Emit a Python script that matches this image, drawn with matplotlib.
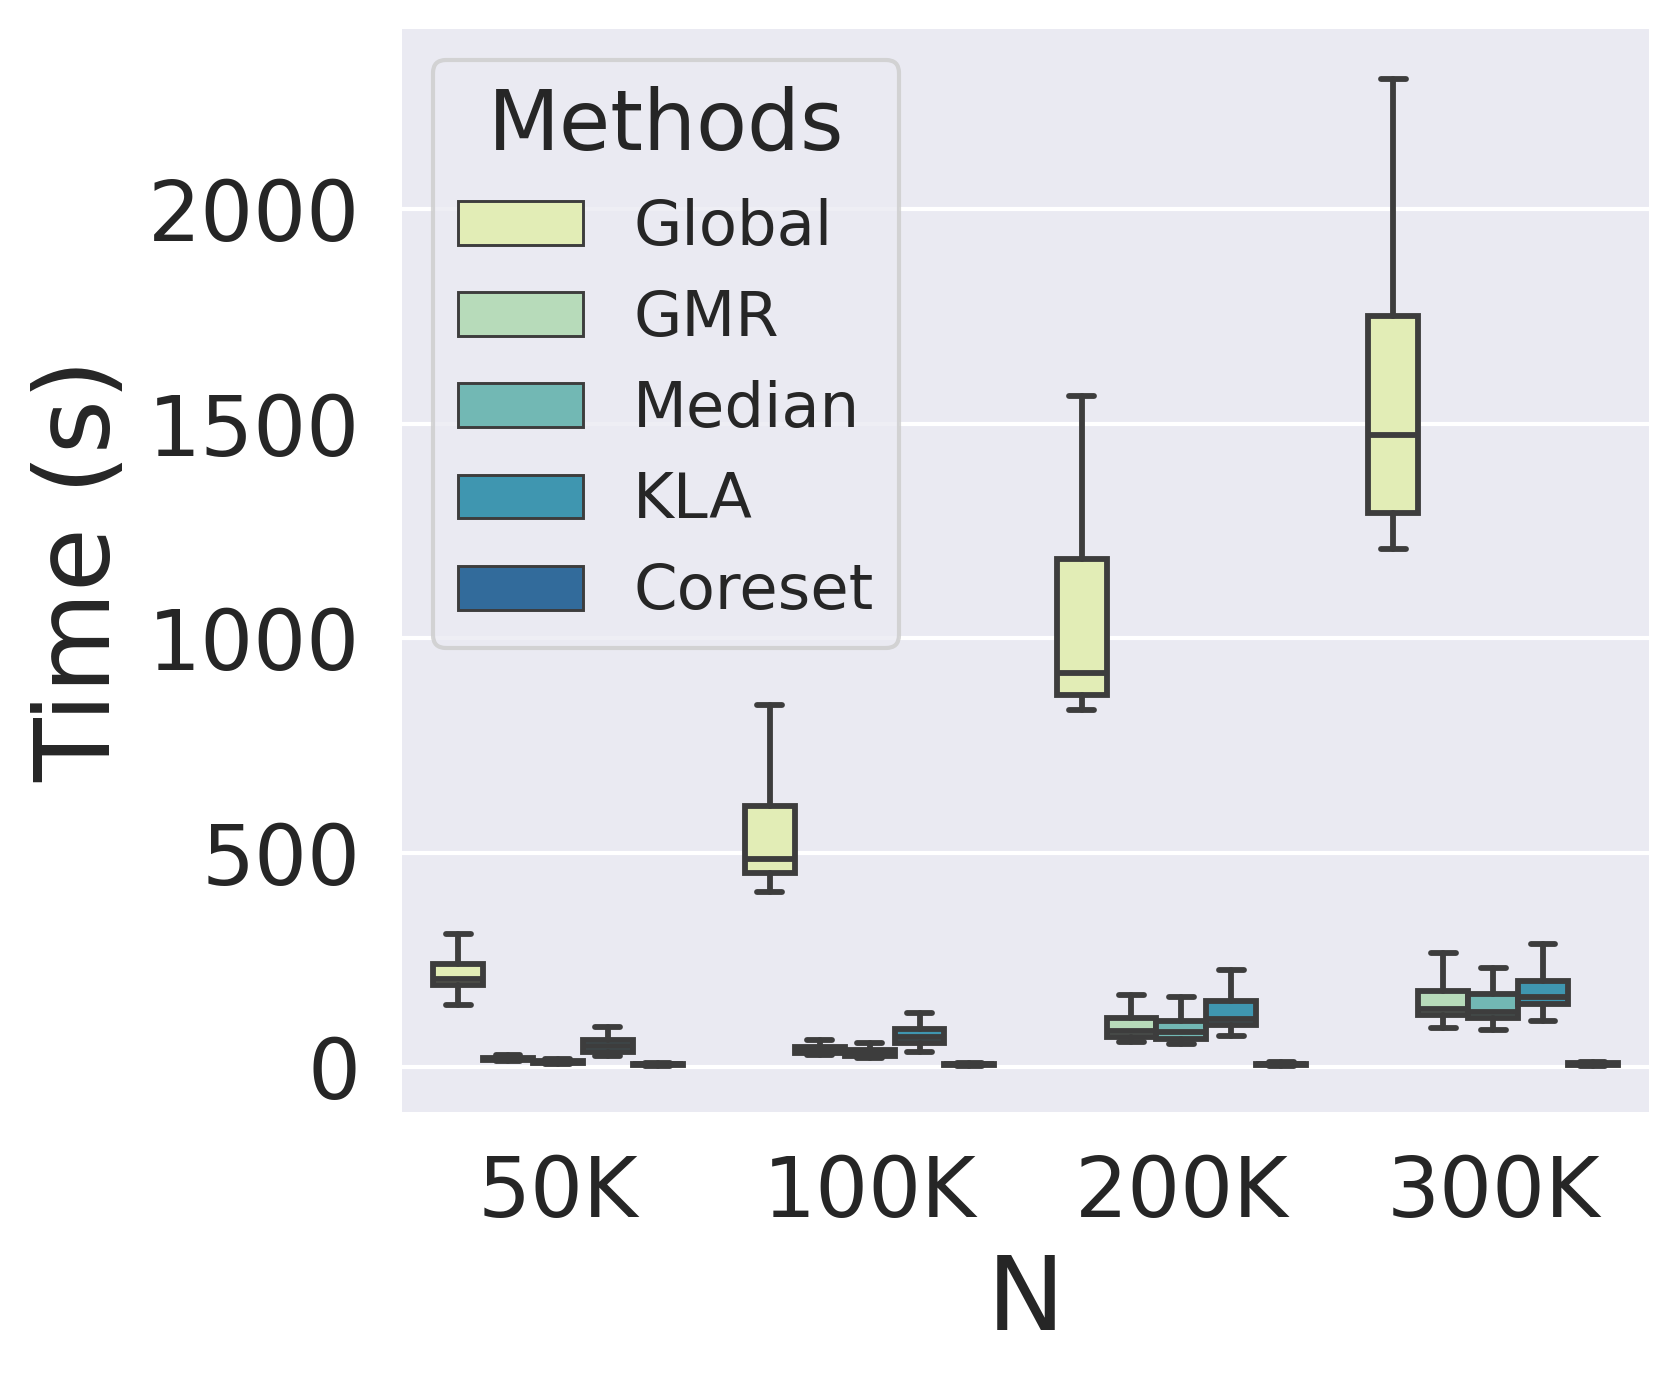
import matplotlib
matplotlib.use('Agg')
import matplotlib.pyplot as plt
from matplotlib.patches import Patch

plt.style.use('seaborn-v0_8-darkgrid')
plt.rcParams['font.family'] = ['DejaVu Sans']

sizes = ['50K', '100K', '200K', '300K']
methods = ['Global', 'GMR', 'Median', 'KLA', 'Coreset']
colors = ['#e2edb6', '#b7dbba', '#72b8b4', '#3f96b0', '#326b9b']

# five-number summaries per size: (whisker low, q1, median, q3, whisker high)
global_box = [(145, 190, 206, 239, 309), (408, 452, 485, 608, 843),
              (833, 868, 918, 1185, 1564), (1207, 1292, 1474, 1751, 2304)]
gmr_box = [(13, 16, 19, 22, 27), (27, 32, 38, 46, 63),
           (59, 71, 85, 113, 168), (92, 120, 135, 177, 265)]
median_box = [(7, 10, 12, 15, 19), (20, 26, 31, 39, 57),
              (53, 66, 81, 108, 162), (87, 114, 129, 171, 230)]
kla_box = [(26, 36, 48, 62, 94), (36, 55, 69, 88, 125),
           (73, 97, 112, 154, 225), (106, 147, 164, 201, 287)]
coreset_box = [(3, 5, 6, 8, 10), (2, 4, 6, 8, 10),
               (2, 4, 6, 8, 11), (3, 5, 7, 9, 11)]

all_boxes = [global_box, gmr_box, median_box, kla_box, coreset_box]

gray = '#3d3d3d'
lw = 1.4
width = 0.16

fig = plt.figure(figsize=(1679/300, 1382/300), dpi=300)
ax = fig.add_axes([402/1679, 1-1112/1382, 1247/1679, 1083/1382])

for m, (boxes, c) in enumerate(zip(all_boxes, colors)):
    stats = []
    for lo, q1, med, q3, hi in boxes:
        stats.append({'whislo': lo, 'q1': q1, 'med': med, 'q3': q3, 'whishi': hi, 'fliers': []})
    pos = [i + (m - 2) * width for i in range(len(sizes))]
    ax.bxp(stats, positions=pos, widths=width, patch_artist=True, showfliers=False,
           manage_ticks=False,
           boxprops=dict(facecolor=c, edgecolor=gray, linewidth=lw),
           medianprops=dict(color=gray, linewidth=lw),
           whiskerprops=dict(color=gray, linewidth=lw),
           capprops=dict(color=gray, linewidth=lw, solid_capstyle='round'))

ax.set_xlim(-0.5, 3.5)
ax.set_ylim(-105, 2420)
ax.set_xticks(range(len(sizes)), sizes)
ax.set_yticks([0, 500, 1000, 1500, 2000])
ax.tick_params(axis='both', labelsize=20, length=0)
ax.tick_params(axis='x', pad=9.8)
ax.tick_params(axis='y', pad=10)
ax.grid(axis='x', visible=False)
ax.grid(axis='y', color='white', linewidth=1)

ax.set_ylabel('Time (s)', fontsize=25)
ax.yaxis.set_label_coords(-0.216, 0.5)
ax.set_xlabel('N', fontsize=25)
ax.xaxis.set_label_coords(0.5, -0.128)

handles = [Patch(facecolor=c, edgecolor=gray, linewidth=0.7) for c in colors]
leg = ax.legend(handles, methods, title='Methods', loc='upper left', fontsize=15,
                title_fontsize=20, frameon=True,
                facecolor='#eaeaf2', edgecolor='0.8')

fig.savefig('out.png', dpi=300)
